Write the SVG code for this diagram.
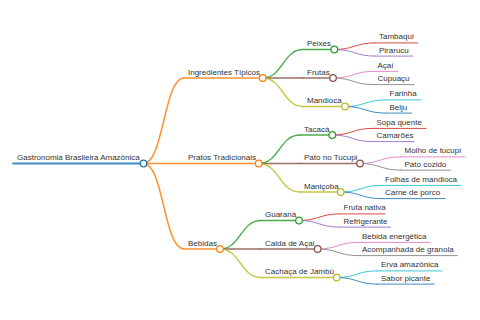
<svg xmlns="http://www.w3.org/2000/svg" width="480" height="320" viewBox="0 0 480 320">
<style>
text{font-family:"Liberation Sans",Arial,sans-serif;font-size:8px;fill:#333}
path,line{fill:none;stroke-linecap:round;stroke-opacity:0.85}
circle{fill:#fff;stroke-width:1.3}
.l0{stroke-width:1.8}
.l1{stroke-width:1.5}
.l2{stroke-width:1.3}
.l3{stroke-width:1}
.blue{stroke:#1f77b4}.orange{stroke:#ff7f0e}.green{stroke:#2ca02c}.red{stroke:#d62728}.purple{stroke:#9467bd}.brown{stroke:#8c564b}.pink{stroke:#e377c2}.gray{stroke:#7f7f7f}.olive{stroke:#bcbd22}.cyan{stroke:#17becf}
</style>
<g id="connectors">
<path class="l1 orange" d="M143.5,163.5 C163.75,163.5 163.75,78 184,78"/>
<path class="l1 orange" d="M143.5,163.5 L184,163.5"/>
<path class="l1 orange" d="M143.5,163.5 C163.75,163.5 163.75,249 184,249"/>
<path class="l2 green" d="M262.7,78 C282.85,78 282.85,49.5 303,49.5"/>
<path class="l2 brown" d="M262.7,78 L303,78"/>
<path class="l2 olive" d="M262.7,78 C282.85,78 282.85,106.5 303,106.5"/>
<path class="l2 green" d="M258.7,163.5 C279.35,163.5 279.35,135 300,135"/>
<path class="l2 brown" d="M258.7,163.5 L300,163.5"/>
<path class="l2 olive" d="M258.7,163.5 C279.35,163.5 279.35,192 300,192"/>
<path class="l2 green" d="M220,249 C240.5,249 240.5,220.5 261,220.5"/>
<path class="l2 brown" d="M220,249 L261,249"/>
<path class="l2 olive" d="M220,249 C240.5,249 240.5,277.5 261,277.5"/>
<path class="l3 red" d="M334.3,49.5 C354.65,49.5 354.65,42.9 375,42.9"/>
<path class="l3 purple" d="M334.3,49.5 C354.65,49.5 354.65,56.1 375,56.1"/>
<path class="l3 pink" d="M333,78 C353.25,78 353.25,71.4 373.5,71.4"/>
<path class="l3 gray" d="M333,78 C353.25,78 353.25,84.6 373.5,84.6"/>
<path class="l3 cyan" d="M345,106.5 C365.25,106.5 365.25,99.9 385.5,99.9"/>
<path class="l3 blue" d="M345,106.5 C365.25,106.5 365.25,113.1 385.5,113.1"/>
<path class="l3 red" d="M332.3,135 C352.4,135 352.4,128.4 372.5,128.4"/>
<path class="l3 purple" d="M332.3,135 C352.4,135 352.4,141.6 372.5,141.6"/>
<path class="l3 pink" d="M360,163.5 C380.25,163.5 380.25,156.9 400.5,156.9"/>
<path class="l3 gray" d="M360,163.5 C380.25,163.5 380.25,170.1 400.5,170.1"/>
<path class="l3 cyan" d="M340.7,192 C360.85,192 360.85,185.4 381,185.4"/>
<path class="l3 blue" d="M340.7,192 C360.85,192 360.85,198.6 381,198.6"/>
<path class="l3 red" d="M299,220.5 C319.25,220.5 319.25,213.9 339.5,213.9"/>
<path class="l3 purple" d="M299,220.5 C319.25,220.5 319.25,227.1 339.5,227.1"/>
<path class="l3 pink" d="M317.7,249 C337.85,249 337.85,242.4 358,242.4"/>
<path class="l3 gray" d="M317.7,249 C337.85,249 337.85,255.6 358,255.6"/>
<path class="l3 cyan" d="M336.7,277.5 C356.85,277.5 356.85,270.9 377,270.9"/>
<path class="l3 blue" d="M336.7,277.5 C356.85,277.5 356.85,284.1 377,284.1"/>
</g>
<g id="root"><line class="l0 blue" x1="13" y1="163.5" x2="143.5" y2="163.5"/><text x="17" y="160">Gastronomia Brasileira Amazônica</text><circle class="blue" cx="143.5" cy="163.5" r="3.3"/></g>
<g id="ingredientes"><line class="l1 orange" x1="184" y1="78" x2="262.7" y2="78"/><text x="188" y="74.5">Ingredientes Típicos</text><circle class="orange" cx="262.7" cy="78" r="3.3"/></g>
<g id="pratos"><line class="l1 orange" x1="184" y1="163.5" x2="258.7" y2="163.5"/><text x="188" y="160">Pratos Tradicionais</text><circle class="orange" cx="258.7" cy="163.5" r="3.3"/></g>
<g id="bebidas"><line class="l1 orange" x1="184" y1="249" x2="220" y2="249"/><text x="188" y="245.5">Bebidas</text><circle class="orange" cx="220" cy="249" r="3.3"/></g>
<g id="peixes"><line class="l2 green" x1="303" y1="49.5" x2="334.3" y2="49.5"/><text x="307" y="46">Peixes</text><circle class="green" cx="334.3" cy="49.5" r="3.3"/></g>
<g id="frutas"><line class="l2 brown" x1="303" y1="78" x2="333" y2="78"/><text x="307" y="74.5">Frutas</text><circle class="brown" cx="333" cy="78" r="3.3"/></g>
<g id="mandioca"><line class="l2 olive" x1="303" y1="106.5" x2="345" y2="106.5"/><text x="307" y="103">Mandioca</text><circle class="olive" cx="345" cy="106.5" r="3.3"/></g>
<g id="tacaca"><line class="l2 green" x1="300" y1="135" x2="332.3" y2="135"/><text x="304" y="131.5">Tacacá</text><circle class="green" cx="332.3" cy="135" r="3.3"/></g>
<g id="pato"><line class="l2 brown" x1="300" y1="163.5" x2="360" y2="163.5"/><text x="304" y="160">Pato no Tucupi</text><circle class="brown" cx="360" cy="163.5" r="3.3"/></g>
<g id="manicoba"><line class="l2 olive" x1="300" y1="192" x2="340.7" y2="192"/><text x="304" y="188.5">Maniçoba</text><circle class="olive" cx="340.7" cy="192" r="3.3"/></g>
<g id="guarana"><line class="l2 green" x1="261" y1="220.5" x2="299" y2="220.5"/><text x="265" y="217">Guaraná</text><circle class="green" cx="299" cy="220.5" r="3.3"/></g>
<g id="calda"><line class="l2 brown" x1="261" y1="249" x2="317.7" y2="249"/><text x="265" y="245.5">Calda de Açaí</text><circle class="brown" cx="317.7" cy="249" r="3.3"/></g>
<g id="cachaca"><line class="l2 olive" x1="261" y1="277.5" x2="336.7" y2="277.5"/><text x="265" y="274">Cachaça de Jambú</text><circle class="olive" cx="336.7" cy="277.5" r="3.3"/></g>
<g id="tambaqui"><line class="l3 red" x1="375" y1="42.9" x2="417.7" y2="42.9"/><text x="379" y="39.4">Tambaqui</text></g>
<g id="pirarucu"><line class="l3 purple" x1="375" y1="56.1" x2="412.7" y2="56.1"/><text x="379" y="52.6">Pirarucu</text></g>
<g id="acai"><line class="l3 pink" x1="373.5" y1="71.4" x2="397.7" y2="71.4"/><text x="377.5" y="67.9">Açaí</text></g>
<g id="cupuacu"><line class="l3 gray" x1="373.5" y1="84.6" x2="414" y2="84.6"/><text x="377.5" y="81.1">Cupuaçu</text></g>
<g id="farinha"><line class="l3 cyan" x1="385.5" y1="99.9" x2="420.7" y2="99.9"/><text x="389.5" y="96.4">Farinha</text></g>
<g id="beiju"><line class="l3 blue" x1="385.5" y1="113.1" x2="411.7" y2="113.1"/><text x="389.5" y="109.6">Beiju</text></g>
<g id="sopa"><line class="l3 red" x1="372.5" y1="128.4" x2="426" y2="128.4"/><text x="376.5" y="124.9">Sopa quente</text></g>
<g id="camaroes"><line class="l3 purple" x1="372.5" y1="141.6" x2="414" y2="141.6"/><text x="376.5" y="138.1">Camarões</text></g>
<g id="molho"><line class="l3 pink" x1="400.5" y1="156.9" x2="465" y2="156.9"/><text x="404.5" y="153.4">Molho de tucupi</text></g>
<g id="patocozido"><line class="l3 gray" x1="400.5" y1="170.1" x2="450.7" y2="170.1"/><text x="404.5" y="166.6">Pato cozido</text></g>
<g id="folhas"><line class="l3 cyan" x1="381" y1="185.4" x2="460.7" y2="185.4"/><text x="385" y="181.9">Folhas de mandioca</text></g>
<g id="carne"><line class="l3 blue" x1="381" y1="198.6" x2="445" y2="198.6"/><text x="385" y="195.1">Carne de porco</text></g>
<g id="frutanativa"><line class="l3 red" x1="339.5" y1="213.9" x2="385" y2="213.9"/><text x="343.5" y="210.4">Fruta nativa</text></g>
<g id="refrigerante"><line class="l3 purple" x1="339.5" y1="227.1" x2="390.7" y2="227.1"/><text x="343.5" y="223.6">Refrigerante</text></g>
<g id="energetica"><line class="l3 pink" x1="358" y1="242.4" x2="430" y2="242.4"/><text x="362" y="238.9">Bebida energética</text></g>
<g id="granola"><line class="l3 gray" x1="358" y1="255.6" x2="457.3" y2="255.6"/><text x="362" y="252.1">Acompanhada de granola</text></g>
<g id="erva"><line class="l3 cyan" x1="377" y1="270.9" x2="442.3" y2="270.9"/><text x="381" y="267.4">Erva amazônica</text></g>
<g id="sabor"><line class="l3 blue" x1="377" y1="284.1" x2="434.3" y2="284.1"/><text x="381" y="280.6">Sabor picante</text></g>
</svg>
